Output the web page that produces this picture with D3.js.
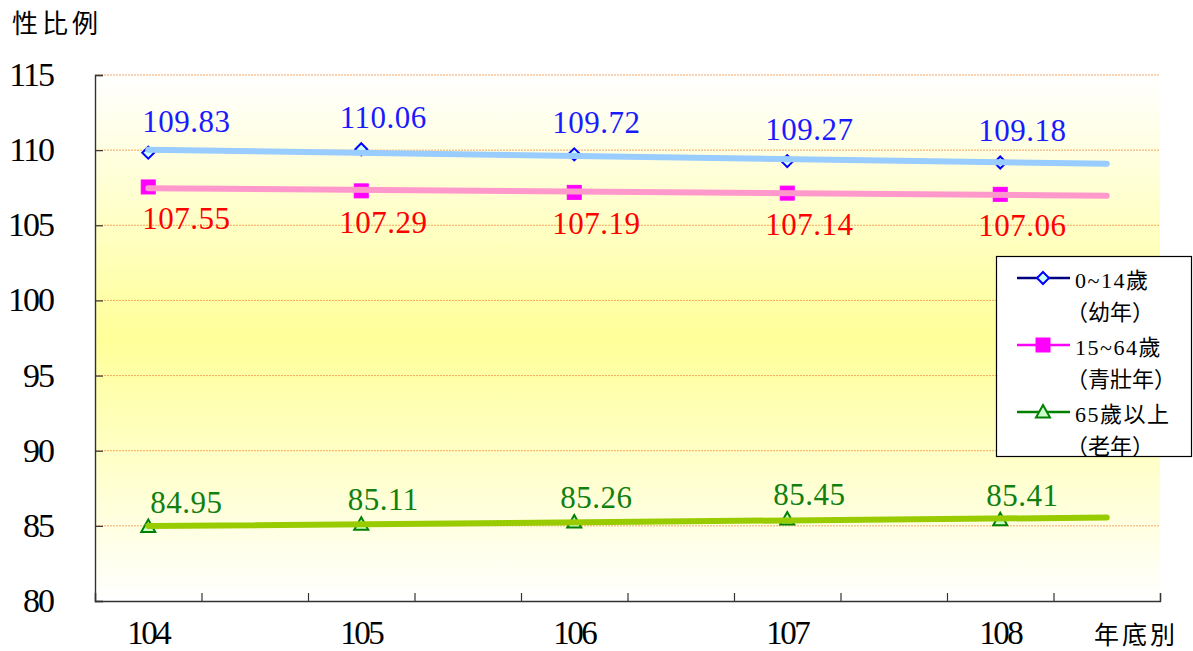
<!DOCTYPE html>
<html><head><meta charset="utf-8">
<script src="https://cdn.jsdelivr.net/npm/d3@7"></script>
<style>
html,body{margin:0;padding:0;background:#fff;}
svg{display:block;}
</style></head>
<body>
<svg id="chart" width="1193" height="651"></svg>
<script>
// ---- data ----
const categories = ["104", "105", "106", "107", "108"];
const youth = [109.83, 110.06, 109.72, 109.27, 109.18];
const working = [107.55, 107.29, 107.19, 107.14, 107.06];
const elderly = [84.95, 85.11, 85.26, 85.45, 85.41];
const yTicks = [80, 85, 90, 95, 100, 105, 110, 115];
const legendLabels = [["0~14歲", "（幼年）"], ["15~64歲", "（青壯年）"], ["65歲以上", "（老年）"]];
const yTitle = "性比例";
const xTitle = "年底別";

const svg = d3.select("#chart");
const L = 95, R = 1160, T = 75, B = 601;
const x = d3.scaleLinear().domain([-0.25, 4.75]).range([L, R]);
const y = d3.scaleLinear().domain([80, 115]).range([B, T]);
const numFont = "Liberation Serif, DejaVu Serif, Times New Roman, serif, Noto Sans CJK TC";

// background gradient
const defs = svg.append("defs");
const grad = defs.append("linearGradient").attr("id", "bg").attr("x1", 0).attr("y1", 0).attr("x2", 0).attr("y2", 1);
grad.append("stop").attr("offset", "0%").attr("stop-color", "#ffffff");
grad.append("stop").attr("offset", "50%").attr("stop-color", "#ffff99");
grad.append("stop").attr("offset", "100%").attr("stop-color", "#ffffff");
svg.append("rect").attr("x", L).attr("y", T).attr("width", R - L).attr("height", B - T).attr("fill", "url(#bg)");

// gridlines
svg.append("g").selectAll("line").data(yTicks.filter(d => d > 80)).join("line")
  .attr("x1", L).attr("x2", R).attr("y1", d => y(d)).attr("y2", d => y(d))
  .attr("stroke", "#f7994d").attr("stroke-width", 1).attr("stroke-dasharray", "2,1").attr("opacity", 0.85);

// axes
const yAxis = d3.axisLeft(y).tickValues(yTicks).tickSize(-8).tickFormat("");
const gy = svg.append("g").attr("transform", `translate(${L},0)`).call(yAxis);
const xTickVals = d3.range(0, 11).map(i => -0.25 + i * 0.5);
const xAxis = d3.axisBottom(x).tickValues(xTickVals).tickSize(-8).tickFormat("");
const gx = svg.append("g").attr("transform", `translate(0,${B})`).call(xAxis);
[gy, gx].forEach(g => {
  g.select(".domain").attr("stroke", "#333").attr("stroke-width", 1.4);
  g.selectAll(".tick line").attr("stroke", "#333").attr("stroke-width", 1.2);
});

// y tick labels
svg.append("g").selectAll("text").data(yTicks).join("text")
  .attr("x", 53).attr("y", d => y(d) + 11).attr("text-anchor", "end")
  .attr("font-family", numFont).attr("font-size", 34).attr("letter-spacing", -2)
  .attr("fill", "#000").text(d => d);
// x labels
svg.append("g").selectAll("text").data(categories).join("text")
  .attr("x", (d, i) => x(i)).attr("y", 644).attr("text-anchor", "middle")
  .attr("font-family", numFont).attr("font-size", 33).attr("letter-spacing", -2.5)
  .attr("fill", "#000").text(d => d);
// titles
svg.append("text").attr("x", 12).attr("y", 33).attr("font-family", numFont)
  .attr("font-size", 26).attr("letter-spacing", 4).text(yTitle);
svg.append("text").attr("x", 1094).attr("y", 644).attr("font-family", numFont)
  .attr("font-size", 25).attr("letter-spacing", 3).text(xTitle);

// series definitions
const series = [
  {vals: youth, trend: "#99ccff", label: "#1a1aff", marker: "diamond", stroke: "#0000ff", fill: "#ccffff", lineLegend: "#000080", pos: "above"},
  {vals: working, trend: "#ff99cc", label: "#ff0000", marker: "square", stroke: "#ff00ff", fill: "#ff00ff", lineLegend: "#ff00ff", pos: "below"},
  {vals: elderly, trend: "#99cc00", label: "#108010", marker: "triangle", stroke: "#008000", fill: "#ccffcc", lineLegend: "#008000", pos: "above"}
];

function drawMarker(g, type, cx, cy, s) {
  if (type === "diamond") {
    const r = 6;
    g.append("path").attr("d", `M${cx},${cy - r}L${cx + r},${cy}L${cx},${cy + r}L${cx - r},${cy}Z`)
      .attr("fill", s.fill).attr("stroke", s.stroke).attr("stroke-width", 2);
  } else if (type === "square") {
    g.append("rect").attr("x", cx - 7).attr("y", cy - 7).attr("width", 14).attr("height", 14)
      .attr("fill", s.fill).attr("stroke", s.stroke).attr("stroke-width", 1);
  } else {
    g.append("path").attr("d", `M${cx},${cy - 7}L${cx + 7},${cy + 5.5}L${cx - 7},${cy + 5.5}Z`)
      .attr("fill", s.fill).attr("stroke", s.stroke).attr("stroke-width", 2);
  }
}

function linfit(vals) {
  const n = vals.length, xs = d3.range(n);
  const mx = d3.mean(xs), my = d3.mean(vals);
  const b = d3.sum(xs, (xi, i) => (xi - mx) * (vals[i] - my)) / d3.sum(xs, xi => (xi - mx) ** 2);
  return t => my + b * (t - mx);
}

const gMarks = svg.append("g");
const gTrend = svg.append("g");
const gLabels = svg.append("g");
series.forEach(s => {
  s.vals.forEach((v, i) => drawMarker(gMarks, s.marker, x(i), y(v), s));
  const f = linfit(s.vals);
  const t0 = 0, t1 = s.vals.length - 0.5;
  gTrend.append("line").attr("x1", x(t0)).attr("y1", y(f(t0))).attr("x2", x(t1)).attr("y2", y(f(t1)))
    .attr("stroke", s.trend).attr("stroke-width", 6).attr("stroke-linecap", "round");
  s.vals.forEach((v, i) => {
    const dx = i === 0 ? 38 : 22;
    const ly = s.pos === "above" ? y(v) - (s.marker === "triangle" ? 14 : 21) : y(v) + 42;
    gLabels.append("text").attr("x", x(i) + dx).attr("y", ly).attr("text-anchor", "middle")
      .attr("font-family", numFont).attr("font-size", 31).attr("letter-spacing", 0.5)
      .attr("fill", s.label).text(v.toFixed(2));
  });
});

// legend
const lg = svg.append("g");
lg.append("rect").attr("x", 996.5).attr("y", 256.5).attr("width", 195).attr("height", 200)
  .attr("fill", "#fff").attr("stroke", "#000").attr("stroke-width", 1.2);
series.forEach((s, k) => {
  const cy = 278 + k * 67;
  lg.append("line").attr("x1", 1017).attr("x2", 1070).attr("y1", cy).attr("y2", cy)
    .attr("stroke", s.lineLegend).attr("stroke-width", 2.5);
  drawMarker(lg, s.marker, 1043, cy, s);
  lg.append("text").attr("x", 1075).attr("y", cy + 10).attr("font-family", numFont)
    .attr("font-size", 22).attr("letter-spacing", 1.5).text(legendLabels[k][0]);
  lg.append("text").attr("x", 1066).attr("y", cy + 42).attr("font-family", numFont)
    .attr("font-size", 22).attr("letter-spacing", 0).text(legendLabels[k][1]);
});
</script>
</body></html>
